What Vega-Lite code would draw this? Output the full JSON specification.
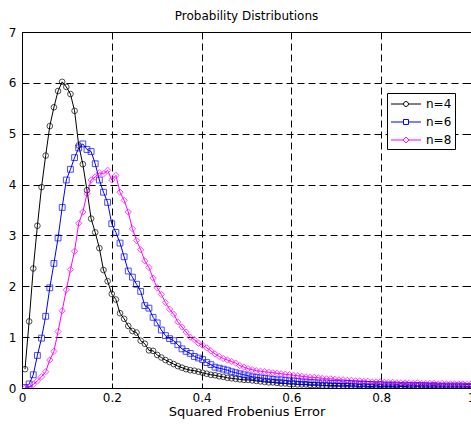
{
"$schema":"https://vega.github.io/schema/vega-lite/v6.json",
"width":449,"height":356,
"autosize":{"type":"none"},
"padding":{"left":22,"top":32,"right":0,"bottom":38},
"background":"white",
"title":{"text":"Probability Distributions","font":"DejaVu Sans","fontSize":12,"fontWeight":"normal","color":"black","offset":3},
"config":{
"view":{"stroke":"black","strokeWidth":1},
"axis":{"labelFont":"DejaVu Sans","titleFont":"DejaVu Sans","labelFontSize":12,"titleFontSize":13,"titleFontWeight":"normal","labelColor":"black","titleColor":"black","domainColor":"black","domainWidth":1,"tickColor":"black","tickWidth":1,"gridColor":"black","gridDash":[7,4],"gridOpacity":1,"gridWidth":1,"labelFlush":false},
"legend":{"orient":"none","legendX":365,"legendY":61,"strokeColor":"black","fillColor":"white","padding":3,"symbolSize":200,"symbolOffset":8,"symbolStrokeWidth":1,"labelOffset":12,"labelFont":"DejaVu Sans","labelFontSize":12,"labelColor":"black","rowPadding":4}
},
"data":{"values":[
{"x":0.0067,"s":"n=4","y":0.37},{"x":0.0159,"s":"n=4","y":1.31},{"x":0.0251,"s":"n=4","y":2.35},{"x":0.0343,"s":"n=4","y":3.19},{"x":0.0435,"s":"n=4","y":3.95},{"x":0.0527,"s":"n=4","y":4.57},{"x":0.0619,"s":"n=4","y":5.15},{"x":0.0711,"s":"n=4","y":5.52},{"x":0.0803,"s":"n=4","y":5.84},{"x":0.0895,"s":"n=4","y":6.02},
{"x":0.0987,"s":"n=4","y":5.92},{"x":0.1079,"s":"n=4","y":5.78},{"x":0.1171,"s":"n=4","y":5.45},{"x":0.1263,"s":"n=4","y":4.77},{"x":0.1355,"s":"n=4","y":4.40},{"x":0.1447,"s":"n=4","y":3.89},{"x":0.1539,"s":"n=4","y":3.33},{"x":0.1631,"s":"n=4","y":3.06},{"x":0.1723,"s":"n=4","y":2.75},{"x":0.1815,"s":"n=4","y":2.32},
{"x":0.1907,"s":"n=4","y":2.10},{"x":0.1999,"s":"n=4","y":1.85},{"x":0.2091,"s":"n=4","y":1.74},{"x":0.2183,"s":"n=4","y":1.47},{"x":0.2275,"s":"n=4","y":1.36},{"x":0.2367,"s":"n=4","y":1.22},{"x":0.2459,"s":"n=4","y":1.12},{"x":0.2551,"s":"n=4","y":1.09},{"x":0.2643,"s":"n=4","y":0.93},{"x":0.2735,"s":"n=4","y":0.87},
{"x":0.2827,"s":"n=4","y":0.74},{"x":0.2919,"s":"n=4","y":0.73},{"x":0.3011,"s":"n=4","y":0.65},{"x":0.3103,"s":"n=4","y":0.60},{"x":0.3195,"s":"n=4","y":0.55},{"x":0.3287,"s":"n=4","y":0.51},{"x":0.3379,"s":"n=4","y":0.47},{"x":0.3471,"s":"n=4","y":0.43},{"x":0.3563,"s":"n=4","y":0.40},{"x":0.3655,"s":"n=4","y":0.37},
{"x":0.3747,"s":"n=4","y":0.35},{"x":0.3839,"s":"n=4","y":0.34},{"x":0.3931,"s":"n=4","y":0.32},{"x":0.4023,"s":"n=4","y":0.30},{"x":0.4115,"s":"n=4","y":0.28},{"x":0.4207,"s":"n=4","y":0.26},{"x":0.4299,"s":"n=4","y":0.25},{"x":0.4391,"s":"n=4","y":0.23},{"x":0.4483,"s":"n=4","y":0.22},{"x":0.4575,"s":"n=4","y":0.20},
{"x":0.4667,"s":"n=4","y":0.19},{"x":0.4759,"s":"n=4","y":0.18},{"x":0.4851,"s":"n=4","y":0.17},{"x":0.4943,"s":"n=4","y":0.16},{"x":0.5035,"s":"n=4","y":0.16},{"x":0.5127,"s":"n=4","y":0.15},{"x":0.5219,"s":"n=4","y":0.14},{"x":0.5311,"s":"n=4","y":0.13},{"x":0.5403,"s":"n=4","y":0.12},{"x":0.5495,"s":"n=4","y":0.11},
{"x":0.5587,"s":"n=4","y":0.11},{"x":0.5679,"s":"n=4","y":0.10},{"x":0.5771,"s":"n=4","y":0.09},{"x":0.5863,"s":"n=4","y":0.09},{"x":0.5955,"s":"n=4","y":0.08},{"x":0.6047,"s":"n=4","y":0.08},{"x":0.6139,"s":"n=4","y":0.07},{"x":0.6231,"s":"n=4","y":0.07},{"x":0.6323,"s":"n=4","y":0.07},{"x":0.6415,"s":"n=4","y":0.06},
{"x":0.6507,"s":"n=4","y":0.06},{"x":0.6599,"s":"n=4","y":0.06},{"x":0.6691,"s":"n=4","y":0.05},{"x":0.6783,"s":"n=4","y":0.05},{"x":0.6875,"s":"n=4","y":0.05},{"x":0.6967,"s":"n=4","y":0.05},{"x":0.7059,"s":"n=4","y":0.04},{"x":0.7151,"s":"n=4","y":0.04},{"x":0.7243,"s":"n=4","y":0.05},{"x":0.7335,"s":"n=4","y":0.04},
{"x":0.7427,"s":"n=4","y":0.04},{"x":0.7519,"s":"n=4","y":0.03},{"x":0.7611,"s":"n=4","y":0.04},{"x":0.7703,"s":"n=4","y":0.03},{"x":0.7795,"s":"n=4","y":0.03},{"x":0.7887,"s":"n=4","y":0.04},{"x":0.7979,"s":"n=4","y":0.03},{"x":0.8071,"s":"n=4","y":0.03},{"x":0.8163,"s":"n=4","y":0.03},{"x":0.8255,"s":"n=4","y":0.03},
{"x":0.8347,"s":"n=4","y":0.02},{"x":0.8439,"s":"n=4","y":0.03},{"x":0.8531,"s":"n=4","y":0.03},{"x":0.8623,"s":"n=4","y":0.02},{"x":0.8715,"s":"n=4","y":0.02},{"x":0.8807,"s":"n=4","y":0.03},{"x":0.8899,"s":"n=4","y":0.02},{"x":0.8991,"s":"n=4","y":0.02},{"x":0.9083,"s":"n=4","y":0.02},{"x":0.9175,"s":"n=4","y":0.02},
{"x":0.9267,"s":"n=4","y":0.02},{"x":0.9359,"s":"n=4","y":0.02},{"x":0.9451,"s":"n=4","y":0.02},{"x":0.9543,"s":"n=4","y":0.02},{"x":0.9635,"s":"n=4","y":0.02},{"x":0.9727,"s":"n=4","y":0.02},{"x":0.9819,"s":"n=4","y":0.02},{"x":0.9911,"s":"n=4","y":0.02},{"x":1.0,"s":"n=4","y":0.02},
{"x":0.0067,"s":"n=6","y":0.01},{"x":0.0159,"s":"n=6","y":0.08},{"x":0.0251,"s":"n=6","y":0.26},{"x":0.0343,"s":"n=6","y":0.64},{"x":0.0435,"s":"n=6","y":0.98},{"x":0.0527,"s":"n=6","y":1.41},{"x":0.0619,"s":"n=6","y":1.97},{"x":0.0711,"s":"n=6","y":2.45},{"x":0.0803,"s":"n=6","y":2.95},{"x":0.0895,"s":"n=6","y":3.55},
{"x":0.0987,"s":"n=6","y":4.09},{"x":0.1079,"s":"n=6","y":4.30},{"x":0.1171,"s":"n=6","y":4.53},{"x":0.1263,"s":"n=6","y":4.72},{"x":0.1355,"s":"n=6","y":4.80},{"x":0.1447,"s":"n=6","y":4.69},{"x":0.1539,"s":"n=6","y":4.65},{"x":0.1631,"s":"n=6","y":4.41},{"x":0.1723,"s":"n=6","y":4.09},{"x":0.1815,"s":"n=6","y":3.85},
{"x":0.1907,"s":"n=6","y":3.65},{"x":0.1999,"s":"n=6","y":3.23},{"x":0.2091,"s":"n=6","y":3.06},{"x":0.2183,"s":"n=6","y":2.85},{"x":0.2275,"s":"n=6","y":2.58},{"x":0.2367,"s":"n=6","y":2.30},{"x":0.2459,"s":"n=6","y":2.18},{"x":0.2551,"s":"n=6","y":2.04},{"x":0.2643,"s":"n=6","y":1.90},{"x":0.2735,"s":"n=6","y":1.62},
{"x":0.2827,"s":"n=6","y":1.57},{"x":0.2919,"s":"n=6","y":1.39},{"x":0.3011,"s":"n=6","y":1.28},{"x":0.3103,"s":"n=6","y":1.14},{"x":0.3195,"s":"n=6","y":1.03},{"x":0.3287,"s":"n=6","y":0.97},{"x":0.3379,"s":"n=6","y":0.93},{"x":0.3471,"s":"n=6","y":0.85},{"x":0.3563,"s":"n=6","y":0.77},{"x":0.3655,"s":"n=6","y":0.72},
{"x":0.3747,"s":"n=6","y":0.68},{"x":0.3839,"s":"n=6","y":0.62},{"x":0.3931,"s":"n=6","y":0.59},{"x":0.4023,"s":"n=6","y":0.56},{"x":0.4115,"s":"n=6","y":0.50},{"x":0.4207,"s":"n=6","y":0.46},{"x":0.4299,"s":"n=6","y":0.41},{"x":0.4391,"s":"n=6","y":0.39},{"x":0.4483,"s":"n=6","y":0.37},{"x":0.4575,"s":"n=6","y":0.35},
{"x":0.4667,"s":"n=6","y":0.32},{"x":0.4759,"s":"n=6","y":0.30},{"x":0.4851,"s":"n=6","y":0.28},{"x":0.4943,"s":"n=6","y":0.26},{"x":0.5035,"s":"n=6","y":0.24},{"x":0.5127,"s":"n=6","y":0.22},{"x":0.5219,"s":"n=6","y":0.21},{"x":0.5311,"s":"n=6","y":0.20},{"x":0.5403,"s":"n=6","y":0.19},{"x":0.5495,"s":"n=6","y":0.18},
{"x":0.5587,"s":"n=6","y":0.17},{"x":0.5679,"s":"n=6","y":0.16},{"x":0.5771,"s":"n=6","y":0.16},{"x":0.5863,"s":"n=6","y":0.15},{"x":0.5955,"s":"n=6","y":0.14},{"x":0.6047,"s":"n=6","y":0.14},{"x":0.6139,"s":"n=6","y":0.13},{"x":0.6231,"s":"n=6","y":0.12},{"x":0.6323,"s":"n=6","y":0.12},{"x":0.6415,"s":"n=6","y":0.11},
{"x":0.6507,"s":"n=6","y":0.11},{"x":0.6599,"s":"n=6","y":0.10},{"x":0.6691,"s":"n=6","y":0.10},{"x":0.6783,"s":"n=6","y":0.10},{"x":0.6875,"s":"n=6","y":0.09},{"x":0.6967,"s":"n=6","y":0.09},{"x":0.7059,"s":"n=6","y":0.09},{"x":0.7151,"s":"n=6","y":0.08},{"x":0.7243,"s":"n=6","y":0.09},{"x":0.7335,"s":"n=6","y":0.08},
{"x":0.7427,"s":"n=6","y":0.08},{"x":0.7519,"s":"n=6","y":0.07},{"x":0.7611,"s":"n=6","y":0.08},{"x":0.7703,"s":"n=6","y":0.07},{"x":0.7795,"s":"n=6","y":0.07},{"x":0.7887,"s":"n=6","y":0.06},{"x":0.7979,"s":"n=6","y":0.07},{"x":0.8071,"s":"n=6","y":0.06},{"x":0.8163,"s":"n=6","y":0.06},{"x":0.8255,"s":"n=6","y":0.06},
{"x":0.8347,"s":"n=6","y":0.06},{"x":0.8439,"s":"n=6","y":0.05},{"x":0.8531,"s":"n=6","y":0.06},{"x":0.8623,"s":"n=6","y":0.05},{"x":0.8715,"s":"n=6","y":0.05},{"x":0.8807,"s":"n=6","y":0.05},{"x":0.8899,"s":"n=6","y":0.05},{"x":0.8991,"s":"n=6","y":0.05},{"x":0.9083,"s":"n=6","y":0.04},{"x":0.9175,"s":"n=6","y":0.05},
{"x":0.9267,"s":"n=6","y":0.04},{"x":0.9359,"s":"n=6","y":0.04},{"x":0.9451,"s":"n=6","y":0.04},{"x":0.9543,"s":"n=6","y":0.04},{"x":0.9635,"s":"n=6","y":0.04},{"x":0.9727,"s":"n=6","y":0.04},{"x":0.9819,"s":"n=6","y":0.04},{"x":0.9911,"s":"n=6","y":0.03},{"x":1.0,"s":"n=6","y":0.03},
{"x":0.0067,"s":"n=8","y":0.00},{"x":0.0159,"s":"n=8","y":0.02},{"x":0.0251,"s":"n=8","y":0.07},{"x":0.0343,"s":"n=8","y":0.14},{"x":0.0435,"s":"n=8","y":0.22},{"x":0.0527,"s":"n=8","y":0.32},{"x":0.0619,"s":"n=8","y":0.55},{"x":0.0711,"s":"n=8","y":0.72},{"x":0.0803,"s":"n=8","y":1.11},{"x":0.0895,"s":"n=8","y":1.52},
{"x":0.0987,"s":"n=8","y":1.93},{"x":0.1079,"s":"n=8","y":2.33},{"x":0.1171,"s":"n=8","y":2.69},{"x":0.1263,"s":"n=8","y":3.24},{"x":0.1355,"s":"n=8","y":3.46},{"x":0.1447,"s":"n=8","y":3.82},{"x":0.1539,"s":"n=8","y":4.09},{"x":0.1631,"s":"n=8","y":4.15},{"x":0.1723,"s":"n=8","y":4.23},{"x":0.1815,"s":"n=8","y":4.21},
{"x":0.1907,"s":"n=8","y":4.28},{"x":0.1999,"s":"n=8","y":4.09},{"x":0.2091,"s":"n=8","y":4.18},{"x":0.2183,"s":"n=8","y":3.85},{"x":0.2275,"s":"n=8","y":3.69},{"x":0.2367,"s":"n=8","y":3.46},{"x":0.2459,"s":"n=8","y":3.13},{"x":0.2551,"s":"n=8","y":2.90},{"x":0.2643,"s":"n=8","y":2.72},{"x":0.2735,"s":"n=8","y":2.50},
{"x":0.2827,"s":"n=8","y":2.37},{"x":0.2919,"s":"n=8","y":2.16},{"x":0.3011,"s":"n=8","y":1.97},{"x":0.3103,"s":"n=8","y":1.84},{"x":0.3195,"s":"n=8","y":1.68},{"x":0.3287,"s":"n=8","y":1.55},{"x":0.3379,"s":"n=8","y":1.45},{"x":0.3471,"s":"n=8","y":1.30},{"x":0.3563,"s":"n=8","y":1.20},{"x":0.3655,"s":"n=8","y":1.10},
{"x":0.3747,"s":"n=8","y":1.00},{"x":0.3839,"s":"n=8","y":0.95},{"x":0.3931,"s":"n=8","y":0.88},{"x":0.4023,"s":"n=8","y":0.84},{"x":0.4115,"s":"n=8","y":0.79},{"x":0.4207,"s":"n=8","y":0.73},{"x":0.4299,"s":"n=8","y":0.67},{"x":0.4391,"s":"n=8","y":0.62},{"x":0.4483,"s":"n=8","y":0.58},{"x":0.4575,"s":"n=8","y":0.55},
{"x":0.4667,"s":"n=8","y":0.52},{"x":0.4759,"s":"n=8","y":0.49},{"x":0.4851,"s":"n=8","y":0.44},{"x":0.4943,"s":"n=8","y":0.41},{"x":0.5035,"s":"n=8","y":0.38},{"x":0.5127,"s":"n=8","y":0.36},{"x":0.5219,"s":"n=8","y":0.34},{"x":0.5311,"s":"n=8","y":0.33},{"x":0.5403,"s":"n=8","y":0.32},{"x":0.5495,"s":"n=8","y":0.31},
{"x":0.5587,"s":"n=8","y":0.30},{"x":0.5679,"s":"n=8","y":0.29},{"x":0.5771,"s":"n=8","y":0.28},{"x":0.5863,"s":"n=8","y":0.27},{"x":0.5955,"s":"n=8","y":0.26},{"x":0.6047,"s":"n=8","y":0.25},{"x":0.6139,"s":"n=8","y":0.24},{"x":0.6231,"s":"n=8","y":0.23},{"x":0.6323,"s":"n=8","y":0.22},{"x":0.6415,"s":"n=8","y":0.21},
{"x":0.6507,"s":"n=8","y":0.21},{"x":0.6599,"s":"n=8","y":0.20},{"x":0.6691,"s":"n=8","y":0.19},{"x":0.6783,"s":"n=8","y":0.18},{"x":0.6875,"s":"n=8","y":0.18},{"x":0.6967,"s":"n=8","y":0.17},{"x":0.7059,"s":"n=8","y":0.16},{"x":0.7151,"s":"n=8","y":0.16},{"x":0.7243,"s":"n=8","y":0.15},{"x":0.7335,"s":"n=8","y":0.15},
{"x":0.7427,"s":"n=8","y":0.14},{"x":0.7519,"s":"n=8","y":0.14},{"x":0.7611,"s":"n=8","y":0.13},{"x":0.7703,"s":"n=8","y":0.13},{"x":0.7795,"s":"n=8","y":0.12},{"x":0.7887,"s":"n=8","y":0.12},{"x":0.7979,"s":"n=8","y":0.12},{"x":0.8071,"s":"n=8","y":0.11},{"x":0.8163,"s":"n=8","y":0.11},{"x":0.8255,"s":"n=8","y":0.11},
{"x":0.8347,"s":"n=8","y":0.10},{"x":0.8439,"s":"n=8","y":0.10},{"x":0.8531,"s":"n=8","y":0.10},{"x":0.8623,"s":"n=8","y":0.10},{"x":0.8715,"s":"n=8","y":0.09},{"x":0.8807,"s":"n=8","y":0.10},{"x":0.8899,"s":"n=8","y":0.09},{"x":0.8991,"s":"n=8","y":0.09},{"x":0.9083,"s":"n=8","y":0.09},{"x":0.9175,"s":"n=8","y":0.09},
{"x":0.9267,"s":"n=8","y":0.08},{"x":0.9359,"s":"n=8","y":0.09},{"x":0.9451,"s":"n=8","y":0.08},{"x":0.9543,"s":"n=8","y":0.08},{"x":0.9635,"s":"n=8","y":0.08},{"x":0.9727,"s":"n=8","y":0.08},{"x":0.9819,"s":"n=8","y":0.08},{"x":0.9911,"s":"n=8","y":0.07},{"x":1.0,"s":"n=8","y":0.08}
]},
"layer":[
{"mark":{"type":"line","strokeWidth":1,"clip":true},
 "encoding":{
  "x":{"field":"x","type":"quantitative","scale":{"domain":[0,1],"nice":false},"axis":{"values":[0,0.2,0.4,0.6,0.8,1],"format":"~g","title":"Squared Frobenius Error","grid":true,"tickSize":-5,"labelPadding":9,"titlePadding":2}},
  "y":{"field":"y","type":"quantitative","scale":{"domain":[0,7],"nice":false},"axis":{"values":[0,1,2,3,4,5,6,7],"title":null,"grid":true,"tickSize":-5,"labelPadding":11}},
  "color":{"field":"s","type":"nominal","scale":{"domain":["n=4","n=6","n=8"],"range":["#000000","#0000ff","#ff00ff"]},"legend":{"title":null,"encode":{"symbols":{"update":{"fill":{"value":"transparent"},"shape":{"signal":"datum.value === 'n=4' ? 'M-2.12,0H-0.35M0.35,0H2.12M-0.35,0A0.35,0.35,0,1,1,0.35,0A0.35,0.35,0,1,1,-0.35,0Z' : datum.value === 'n=6' ? 'M-2.12,0H-0.35M0.35,0H2.12M-0.35,-0.35H0.35V0.35H-0.35Z' : 'M-2.12,0H-0.42M0.42,0H2.12M-0.42,0L0,-0.42L0.42,0L0,0.42Z'"}}}}}},
  "detail":{"field":"s"}
 }},
{"transform":[{"filter":"datum.s === 'n=4'"}],
 "mark":{"type":"point","shape":"circle","filled":false,"color":"#000000","size":32,"strokeWidth":1,"clip":true},
 "encoding":{"x":{"field":"x","type":"quantitative","axis":null},"y":{"field":"y","type":"quantitative","axis":null}}},
{"transform":[{"filter":"datum.s === 'n=6'"}],
 "mark":{"type":"point","shape":"square","filled":false,"color":"#0000ff","size":34,"strokeWidth":1,"clip":true},
 "encoding":{"x":{"field":"x","type":"quantitative","axis":null},"y":{"field":"y","type":"quantitative","axis":null}}},
{"transform":[{"filter":"datum.s === 'n=8'"}],
 "mark":{"type":"point","shape":"diamond","filled":false,"color":"#ff00ff","size":40,"strokeWidth":1,"clip":true},
 "encoding":{"x":{"field":"x","type":"quantitative","axis":null},"y":{"field":"y","type":"quantitative","axis":null}}},
{"mark":{"type":"point","opacity":0},
 "encoding":{
  "x":{"field":"x","type":"quantitative","axis":{"orient":"top","values":[0,0.2,0.4,0.6,0.8,1],"labels":false,"grid":false,"domain":false,"tickSize":-5,"title":null}},
  "y":{"field":"y","type":"quantitative","axis":{"orient":"right","values":[0,1,2,3,4,5,6,7],"labels":false,"grid":false,"domain":false,"tickSize":-5,"title":null}}
 }}
],
"resolve":{"axis":{"x":"independent","y":"independent"}}
}
